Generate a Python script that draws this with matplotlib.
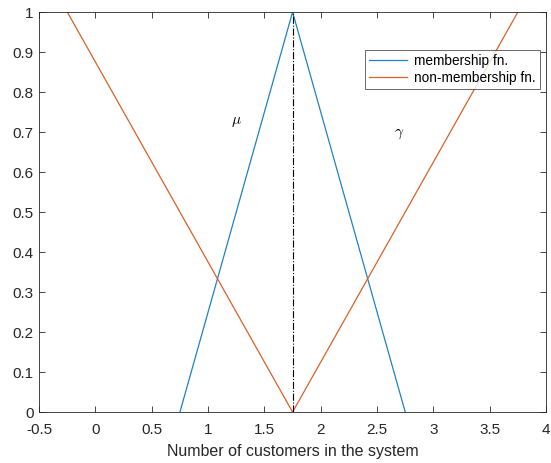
import matplotlib
matplotlib.use('Agg')
import matplotlib.pyplot as plt

plt.rcParams['font.family'] = ['Liberation Sans', 'DejaVu Sans']
plt.rcParams['mathtext.fontset'] = 'cm'

# membership function (triangle)
mem_x = [0.75, 1.75, 2.75]
mem_y = [0, 1, 0]
# non-membership function (inverted triangle)
non_x = [-0.25, 1.75, 3.75]
non_y = [1, 0, 1]
# peak marker line
peak_x = [1.75, 1.75]
peak_y = [0, 1]

xticks = [-0.5, 0, 0.5, 1, 1.5, 2, 2.5, 3, 3.5, 4]
xticklabels = ['-0.5', '0', '0.5', '1', '1.5', '2', '2.5', '3', '3.5', '4']
yticks = [0, 0.1, 0.2, 0.3, 0.4, 0.5, 0.6, 0.7, 0.8, 0.9, 1]
yticklabels = ['0', '0.1', '0.2', '0.3', '0.4', '0.5', '0.6', '0.7', '0.8', '0.9', '1']

fig = plt.figure(figsize=(5.51, 4.63), dpi=100)
ax = fig.add_axes([0.071, 0.110, 0.920, 0.864])

ax.plot(mem_x, mem_y, color='#1f82c0', lw=0.9, label='membership fn.')
ax.plot(non_x, non_y, color='#d9602a', lw=0.9, label='non-membership fn.')
ax.plot(peak_x, peak_y, color='black', lw=0.8, linestyle='-.')

ax.text(1.2, 0.72, r'$\mu$', fontsize=11)
ax.text(2.65, 0.69, r'$\gamma$', fontsize=11)

ax.set_xlim(-0.5, 4)
ax.set_ylim(0, 1)
ax.set_xticks(xticks)
ax.set_xticklabels(xticklabels)
ax.set_yticks(yticks)
ax.set_yticklabels(yticklabels)
ax.tick_params(direction='in', top=True, right=True, labelsize=11,
               colors='#262626', length=4, width=0.6)
ax.tick_params(axis='x', pad=8)
ax.tick_params(axis='y', pad=4)
for s in ax.spines.values():
    s.set_linewidth(0.6)
    s.set_color('#262626')
ax.set_xlabel('Number of customers in the system', fontsize=11.5, color='#262626', labelpad=5)

leg = ax.legend(loc='upper right', bbox_to_anchor=(0.988, 0.905), fontsize=9.8,
                frameon=True, fancybox=False, edgecolor='#262626',
                borderpad=0.3, handlelength=2.8, handletextpad=0.5,
                labelspacing=0.2, borderaxespad=0)
leg.get_frame().set_linewidth(0.6)

fig.savefig('out.png', dpi=100)
